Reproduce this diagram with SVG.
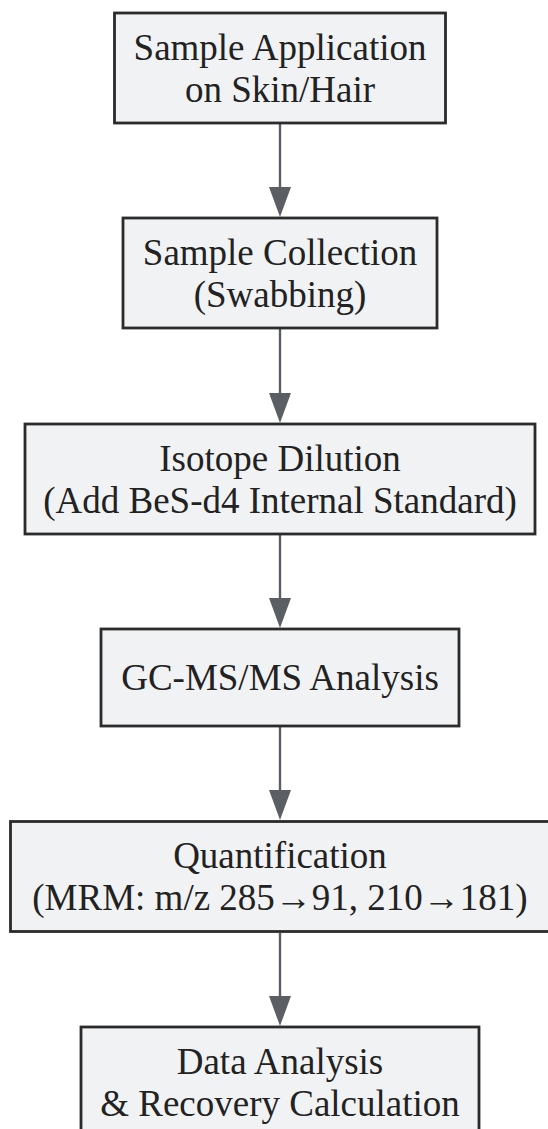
<svg xmlns="http://www.w3.org/2000/svg" width="548" height="1129" viewBox="0 0 548 1129">
<style>
.box{fill:#f1f2f4;stroke:#2b2b2b;stroke-width:2.8}
.lbl{font-family:"Liberation Serif","Times New Roman",serif;font-size:37px;fill:#222;text-anchor:middle}
.edge{stroke:#5b5e63;stroke-width:2.4;fill:none}
.head{fill:#5b5e63}
</style>
<rect width="548" height="1129" fill="#ffffff"/>
<g id="connectors">
<line class="edge" x1="280" y1="124" x2="280" y2="190"/>
<polygon class="head" points="269,187 291,187 280,217"/>
<line class="edge" x1="280" y1="329" x2="280" y2="396"/>
<polygon class="head" points="269,393 291,393 280,423"/>
<line class="edge" x1="280" y1="535" x2="280" y2="601"/>
<polygon class="head" points="269,598 291,598 280,628"/>
<line class="edge" x1="280" y1="727" x2="280" y2="793"/>
<polygon class="head" points="269,790 291,790 280,820"/>
<line class="edge" x1="280" y1="933" x2="280" y2="999"/>
<polygon class="head" points="269,996 291,996 280,1026"/>
</g>
<g id="node1">
<rect class="box" x="114.5" y="13" width="331" height="110"/>
<text class="lbl" x="280" y="59.5">Sample Application</text>
<text class="lbl" x="280" y="101.5">on Skin/Hair</text>
</g>
<g id="node2">
<rect class="box" x="123" y="218" width="314" height="110"/>
<text class="lbl" x="280" y="264.5">Sample Collection</text>
<text class="lbl" x="280" y="306.5">(Swabbing)</text>
</g>
<g id="node3">
<rect class="box" x="25" y="424" width="510" height="110"/>
<text class="lbl" x="280" y="470.5">Isotope Dilution</text>
<text class="lbl" x="280" y="512.5">(Add BeS-d4 Internal Standard)</text>
</g>
<g id="node4">
<rect class="box" x="101" y="629" width="358" height="97"/>
<text class="lbl" x="280" y="690">GC-MS/MS Analysis</text>
</g>
<g id="node5">
<rect class="box" x="10.5" y="821.5" width="539" height="110"/>
<text class="lbl" x="280" y="868">Quantification</text>
<text class="lbl" x="280" y="910">(MRM: m/z 285→91, 210→181)</text>
</g>
<g id="node6">
<rect class="box" x="81" y="1027" width="398" height="110"/>
<text class="lbl" x="280" y="1073.5">Data Analysis</text>
<text class="lbl" x="280" y="1115.5">&amp; Recovery Calculation</text>
</g>
</svg>
